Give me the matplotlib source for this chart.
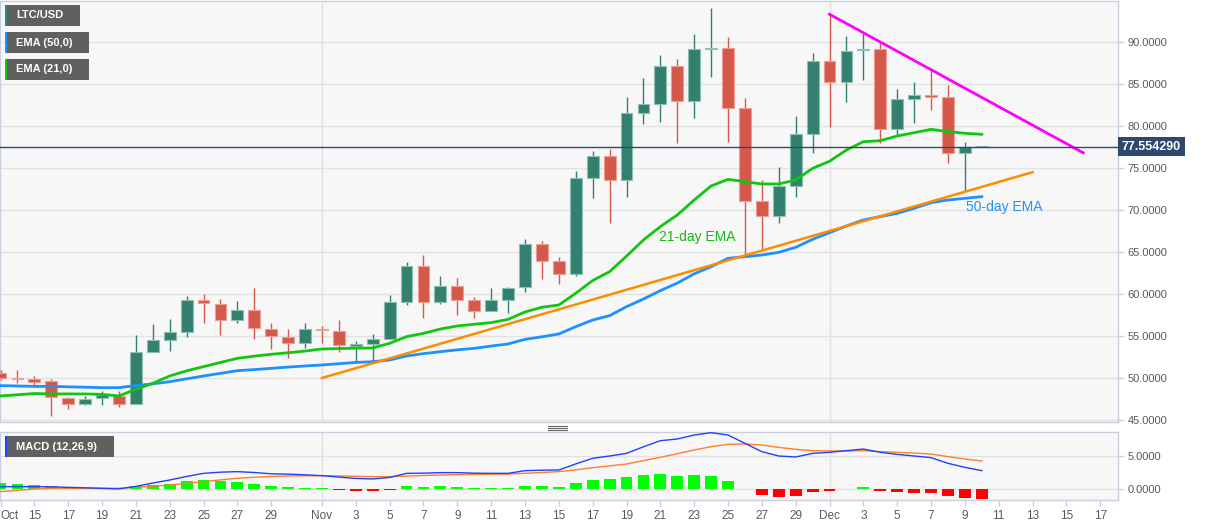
import numpy as np
import pandas as pd
import matplotlib
matplotlib.use('Agg')
import matplotlib.pyplot as plt
import matplotlib.transforms as mtransforms
from matplotlib.patches import Rectangle
from matplotlib.lines import Line2D

plt.rcParams['font.family'] = ['Liberation Sans', 'DejaVu Sans']

W, H = 1207, 526

# daily LTC/USD candles, Oct 13 - Dec 10
dates = pd.date_range('2020-10-13', '2020-12-10', freq='D')
opens = [50.6, 50.0, 49.9, 49.6, 47.65, 46.95, 47.65, 47.9, 46.95, 53.15,
         54.5, 55.5, 59.3, 58.85, 56.95, 58.05, 55.85, 54.9, 54.15, 55.85,
         55.65, 53.85, 54.0, 54.7, 59.0, 63.3, 59.0, 61.0, 59.3, 58.0,
         59.3, 60.8, 65.9, 63.9, 62.4, 73.85, 76.4, 73.6, 81.6, 82.65,
         87.15, 83.0, 89.15, 89.3, 82.2, 71.1, 69.3, 72.8, 79.0, 87.75,
         85.25, 89.05, 89.15, 79.7, 83.2, 83.7, 83.5, 76.75, 77.55]
highs = [50.9, 51.0, 50.2, 49.9, 47.7, 47.9, 48.4, 48.4, 55.1, 56.4,
         57.0, 59.8, 60.0, 59.4, 59.2, 60.75, 56.5, 55.8, 56.5, 56.2,
         56.9, 54.35, 55.2, 59.9, 63.8, 64.7, 62.1, 61.85, 59.65, 60.7,
         60.8, 66.6, 66.3, 64.45, 74.65, 77.0, 77.25, 83.5, 85.7, 88.4,
         88.0, 90.9, 94.0, 90.65, 83.3, 73.6, 75.15, 81.2, 88.65, 93.2,
         90.7, 91.2, 90.0, 84.35, 85.2, 86.8, 84.9, 78.15, 77.6]
lows = [49.8, 49.4, 48.9, 45.5, 46.3, 46.75, 46.8, 46.5, 46.85, 53.1,
        53.2, 54.9, 56.6, 55.1, 56.5, 54.7, 53.4, 52.35, 53.6, 54.2,
        53.05, 51.75, 51.9, 54.7, 58.7, 57.1, 58.75, 57.45, 57.2, 58.0,
        57.7, 60.2, 61.75, 61.15, 62.2, 71.45, 68.4, 71.5, 80.2, 80.5,
        77.95, 80.9, 85.8, 78.15, 64.65, 65.3, 68.4, 71.6, 76.75, 79.9,
        82.9, 85.5, 78.0, 78.8, 80.4, 81.9, 75.55, 72.2, 77.5]
closes = [50.0, 49.85, 49.55, 47.7, 46.95, 47.55, 48.0, 46.95, 53.1, 54.5,
          55.5, 59.3, 58.9, 56.95, 58.05, 55.9, 54.95, 54.15, 55.8, 55.7,
          53.9, 54.05, 54.7, 59.0, 63.3, 59.0, 61.0, 59.3, 58.0, 59.3,
          60.75, 65.9, 63.9, 62.4, 73.85, 76.4, 73.6, 81.6, 82.6, 87.15,
          83.0, 89.15, 89.3, 82.2, 71.1, 69.3, 72.8, 79.0, 87.75, 85.25,
          88.95, 89.15, 79.7, 83.2, 83.7, 83.5, 76.75, 77.55, 77.554]
ema21 = [47.86, 48.0, 48.15, 48.1, 48.1, 48.1, 48.05, 47.86, 48.65, 49.37,
         50.24, 50.85, 51.35, 51.85, 52.34, 52.6, 52.82, 53.0, 53.21, 53.45,
         53.5, 53.55, 53.57, 54.13, 54.92, 55.31, 55.83, 56.19, 56.4, 56.59,
         56.98, 57.86, 58.42, 58.69, 60.08, 61.6, 62.66, 64.5, 66.43, 68.02,
         69.4, 71.19, 72.86, 73.65, 73.37, 73.1, 73.1, 73.57, 74.96, 75.8,
         77.14, 78.13, 78.25, 78.81, 79.2, 79.6, 79.33, 79.13, 79.01]
ema50 = [49.09, 49.05, 49.0, 49.0, 48.95, 48.9, 48.85, 48.85, 49.1, 49.3,
         49.56, 49.9, 50.24, 50.55, 50.87, 51.0, 51.15, 51.3, 51.43, 51.55,
         51.7, 51.85, 51.94, 52.14, 52.62, 52.9, 53.13, 53.35, 53.53, 53.8,
         54.05, 54.6, 54.9, 55.24, 56.11, 56.9, 57.42, 58.49, 59.4, 60.4,
         61.3, 62.4, 63.25, 64.25, 64.44, 64.64, 64.96, 65.56, 66.51, 67.3,
         68.1, 68.81, 69.21, 69.6, 70.2, 70.87, 71.19, 71.39, 71.59]

# MACD (12,26,9)
macd_line = [0.35, 0.35, 0.34, 0.33, 0.25, 0.18, 0.1, 0.02, 0.4, 0.9,
             1.36, 1.9, 2.37, 2.55, 2.63, 2.5, 2.3, 2.25, 2.15, 2.02,
             1.8, 1.6, 1.52, 1.75, 2.37, 2.4, 2.48, 2.48, 2.4, 2.37,
             2.37, 2.78, 2.85, 2.88, 3.8, 4.65, 5.0, 5.4, 6.4, 7.32,
             7.58, 8.18, 8.54, 8.18, 6.92, 5.66, 5.0, 4.85, 5.4, 5.56,
             5.81, 6.06, 5.56, 5.25, 5.0, 4.75, 3.89, 3.28, 2.78]
signal_line = [-0.4, -0.2, 0.0, 0.1, 0.12, 0.1, 0.1, 0.1, 0.25, 0.42,
               0.61, 0.85, 1.11, 1.38, 1.62, 1.78, 1.9, 1.97, 2.0, 2.02,
               1.98, 1.92, 1.87, 1.87, 1.95, 2.05, 2.12, 2.18, 2.22, 2.25,
               2.27, 2.38, 2.5, 2.63, 2.9, 3.23, 3.5, 3.79, 4.3, 4.8,
               5.35, 5.91, 6.41, 6.77, 6.82, 6.67, 6.31, 6.01, 5.81, 5.76,
               5.76, 5.81, 5.66, 5.56, 5.45, 5.3, 4.9, 4.55, 4.24]
macd_hist = [0.86, 0.76, 0.66, 0.45, 0.3, 0.2, 0.1, 0.05, 0.4, 0.6,
             0.8, 1.16, 1.31, 1.16, 1.06, 0.76, 0.5, 0.25, 0.15, 0.1,
             -0.15, -0.25, -0.25, -0.1, 0.4, 0.35, 0.4, 0.25, 0.1, 0.1,
             0.1, 0.4, 0.4, 0.35, 0.96, 1.41, 1.46, 1.82, 2.07, 2.32,
             2.02, 2.12, 1.97, 1.26, 0.05, -0.91, -1.26, -1.06, -0.45, -0.25,
             0.05, 0.25, -0.3, -0.45, -0.56, -0.66, -1.06, -1.31, -1.52]

# hand drawn trend lines (date, price)
support_dates = ['2020-11-01', '2020-12-13']
support_prices = [50.0, 74.5]
resist_dates = ['2020-12-01', '2020-12-16']
resist_prices = [93.3, 76.8]
last_price = 77.554290

price_ticks = [45, 50, 55, 60, 65, 70, 75, 80, 85, 90]
macd_ticks = [0, 5]
axis_end = pd.Timestamp('2020-12-17')


def day_index(d):
    return (pd.Timestamp(d) - dates[0]).days


def px_rect(x, y, w, h):
    return [x / W, 1 - (y + h) / H, w / W, h / H]


fig = plt.figure(figsize=(W / 100, H / 100), dpi=100)
fig.patch.set_facecolor('white')

ax = fig.add_axes(px_rect(0, 1, 1118, 421))
axm = fig.add_axes(px_rect(0, 432, 1118, 68), sharex=ax)

border = '#c9cfdd'
grid_c = '#e2e2e2'
label_c = '#5a5a5a'
for a in (ax, axm):
    a.set_facecolor('#f7f7f7')
    for s in a.spines.values():
        s.set_color(border)
        s.set_linewidth(1)

x = np.arange(len(dates))
o = np.array(opens)
c = np.array(closes)
up = c >= o

# candles
up_col, dn_col = '#33806f', '#d4594a'
up_edge, dn_edge = '#8cc0b4', '#ec9f95'
wick_cols = np.where(up, up_col, dn_col)
body_cols = np.where(up, up_col, dn_col)
edge_cols = np.where(up, up_edge, dn_edge)
ax.vlines(x, lows, highs, colors=wick_cols, lw=1, zorder=3)
ax.bar(x, np.maximum(np.abs(c - o), 0.06), bottom=np.minimum(o, c), width=0.7,
       color=body_cols, edgecolor=edge_cols, linewidth=0.8, zorder=4)

# moving averages and trend lines
ax.plot(x, ema50, color='#1e90ff', lw=2, zorder=5)
ax.plot(x, ema21, color='#11c511', lw=2, zorder=5)
ax.plot([day_index(d) for d in support_dates], support_prices, color='#ff8c00', lw=1.8, zorder=5)
ax.plot([day_index(d) for d in resist_dates], resist_prices, color='#ff00ff', lw=2, zorder=5)
ax.axhline(last_price, color='#2b4a70', lw=1, zorder=6)

ax.text(day_index('2020-11-21') - 0.05, 66.8, '21-day EMA', color='#11bb11', fontsize=10,
        va='center', ha='left', zorder=7)
ax.text(day_index('2020-12-09') + 0.05, 70.35, '50-day EMA', color='#1e90ff', fontsize=10,
        va='center', ha='left', zorder=7)

xmin, xmax = -0.03, day_index(axis_end) + 1.05
ax.set_xlim(xmin, xmax)
ax.set_ylim(44.76, 94.88)

ax.yaxis.tick_right()
ax.set_yticks(price_ticks)
ax.set_yticklabels([f'{v:.4f}' for v in price_ticks])
ax.tick_params(axis='y', length=4, width=1, color=border, labelcolor=label_c,
               labelsize=8, pad=3)
ax.tick_params(axis='x', bottom=False, labelbottom=False)
for v in price_ticks:
    ax.axhline(v, color=grid_c, lw=1, zorder=1)
for d in ['2020-11-01', '2020-12-01']:
    ax.axvline(day_index(d), color=grid_c, lw=1, zorder=1)
    axm.axvline(day_index(d), color=grid_c, lw=1, zorder=1)

trans = mtransforms.blended_transform_factory(ax.transAxes, ax.transData)
ax.text(1.0035, last_price, f'{last_price:.6f}', transform=trans, ha='left', va='center',
        color='white', fontsize=9, fontweight='bold', zorder=8, clip_on=False,
        bbox=dict(boxstyle='square,pad=0.3', fc='#2d4a6e', ec='none'))

# MACD panel
hist = np.array(macd_hist)
axm.bar(x, hist, width=0.7, color=np.where(hist >= 0, '#00ff00', '#ff0000'),
        linewidth=0, zorder=3)
axm.plot(x, signal_line, color='#ff7f27', lw=1, zorder=4)
axm.plot(x, macd_line, color='#2040ff', lw=1, zorder=4)
axm.set_ylim(-1.67, 8.64)
axm.yaxis.tick_right()
axm.set_yticks(macd_ticks)
axm.set_yticklabels([f'{v:.4f}' for v in macd_ticks])
for v in macd_ticks:
    axm.axhline(v, color=grid_c, lw=1, zorder=1)
axm.tick_params(axis='y', length=4, width=1, color=border, labelcolor=label_c,
                labelsize=8, pad=3)

# x ticks: odd days, month name on the 1st
tick_pos, tick_lab = [], []
for d in pd.date_range(dates[0], axis_end, freq='D'):
    if d.day % 2 == 1 and d.day != 31:
        tick_pos.append(day_index(d))
        if d == dates[0] or d.day == 1:
            tick_lab.append(d.strftime('%b'))
        else:
            tick_lab.append(str(d.day))
axm.set_xticks(tick_pos)
axm.set_xticklabels(tick_lab)
axm.tick_params(axis='x', length=4, width=1, color=border, labelcolor=label_c,
                labelsize=8.5, pad=3)
axm.get_xticklabels()[0].set_ha('left')

# indicator tags
def tag(x0, y0, w, h, bar_color, text):
    fig.add_artist(Rectangle((x0 / W, 1 - (y0 + h) / H), w / W, h / H,
                             transform=fig.transFigure, fc='#606060', ec='none', zorder=10))
    fig.add_artist(Rectangle((x0 / W, 1 - (y0 + h) / H), 2 / W, h / H,
                             transform=fig.transFigure, fc=bar_color, ec='none', zorder=11))
    fig.text((x0 + 11) / W, 1 - (y0 + h / 2) / H, text, color='white', fontsize=8,
             fontweight='bold', va='center', ha='left', zorder=12)

tag(5, 5, 75, 21, '#2e8b7a', 'LTC/USD')
tag(5, 32, 84, 21, '#1e90ff', 'EMA (50,0)')
tag(5, 59, 84, 21, '#11c511', 'EMA (21,0)')
tag(5, 436, 109, 21, '#2040ff', 'MACD (12,26,9)')

# pane divider handle
for yy in (425.5, 427.5, 429.5):
    fig.add_artist(Line2D([548 / W, 567 / W], [1 - yy / H, 1 - yy / H],
                          transform=fig.transFigure, color='#666666', lw=0.8))

fig.savefig('out.png', dpi=100, facecolor='white')
